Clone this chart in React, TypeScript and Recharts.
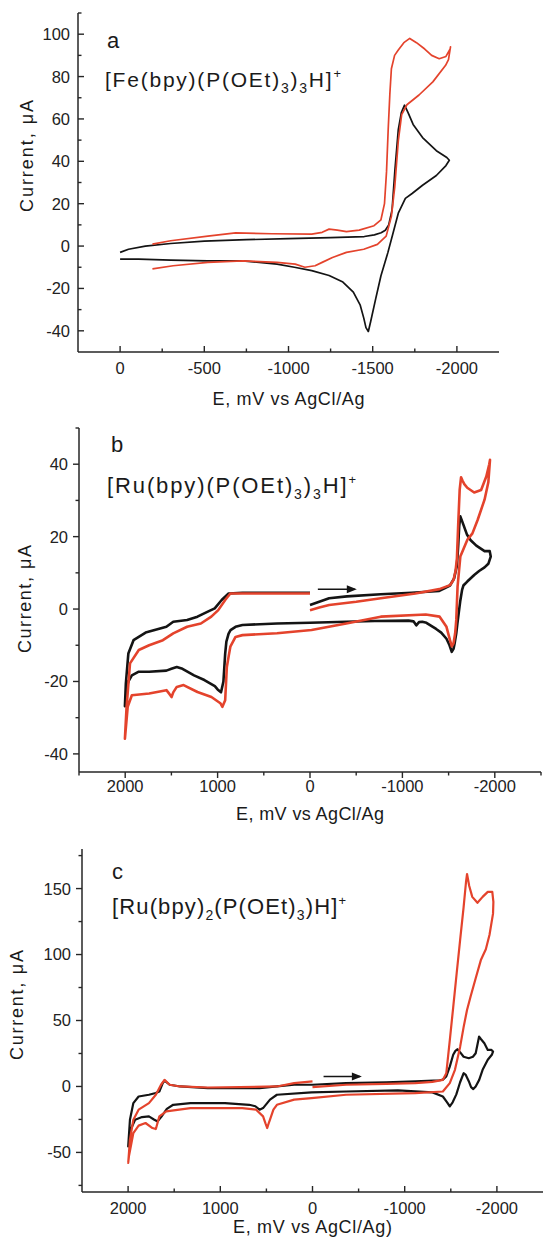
import React from 'react';
import { LineChart, Line, XAxis, YAxis } from 'recharts';

const FONT = '"Liberation Sans", Arial, Helvetica, sans-serif';
const RED = '#e4432c';
const BLACK = '#141414';
const AXIS = '#262626';

type P = [number, number];

// ---------- Panel a : [Fe(bpy)(P(OEt)3)3H]+ ----------
const aBlack: P[] = [[0,-3],[-50,-1.5],[-150,0],[-300,1.2],[-500,2.3],[-750,3],[-1000,3.5],[-1250,4],[-1450,4.5],[-1510,5.3],[-1550,6.3],[-1575,7.5],[-1595,10],[-1615,17],[-1632,36],[-1652,55],[-1670,63],[-1689,66.5],[-1710,63],[-1740,57.4],[-1796,51.2],[-1878,45],[-1940,41.8],[-1955,40.5],[-1935,38],[-1878,33.3],[-1796,28.7],[-1734,24.8],[-1694,22.5],[-1652,15.5],[-1621,6.2],[-1590,-3.1],[-1549,-14],[-1518,-24.8],[-1488,-35.6],[-1474,-40.3],[-1460,-38.5],[-1447,-34],[-1426,-27.9],[-1385,-21.7],[-1323,-17],[-1241,-13.9],[-1138,-11.6],[-1035,-10],[-932,-8.5],[-727,-7],[-521,-7],[-300,-6.6],[-110,-6.2],[0,-6.2]];
const aRed: P[] = [[-192,0.9],[-300,2.5],[-521,4.7],[-686,6.2],[-900,5.8],[-1138,5.6],[-1200,6.5],[-1241,8],[-1290,7.5],[-1344,6.8],[-1420,7.5],[-1508,9.6],[-1549,12.4],[-1570,20],[-1582,35],[-1592,55],[-1602,72],[-1611,83.7],[-1630,90],[-1652,92.5],[-1685,96],[-1720,98],[-1760,96],[-1809,93],[-1850,90],[-1895,88.4],[-1935,89.5],[-1960,93],[-1962,94],[-1950,88],[-1933,85.3],[-1857,77.5],[-1775,71.3],[-1703,66.7],[-1672,62],[-1652,49.6],[-1631,27.9],[-1611,14],[-1580,4.7],[-1528,0.8],[-1447,-1.5],[-1344,-3],[-1261,-5.4],[-1200,-7.7],[-1158,-9.3],[-1097,-10],[-1040,-8.5],[-932,-7.7],[-727,-7],[-521,-7.7],[-315,-9.3],[-192,-10.8]];
const aXMajor = [0, -500, -1000, -1500, -2000];
const aXMinor = [-250, -750, -1250, -1750];
const aYMajor = [-40, -20, 0, 20, 40, 60, 80, 100];
const aYMinor = [-30, -10, 10, 30, 50, 70, 90, 110];

// ---------- Panel b : [Ru(bpy)(P(OEt)3)3H]+ ----------
const bBlack: P[] = [[0,1.1],[-100,2],[-207,3],[-400,3.5],[-766,4.1],[-1100,4.5],[-1400,5],[-1515,6.5],[-1560,8.5],[-1590,12],[-1605,18],[-1615,23],[-1627,25.6],[-1650,24],[-1700,20.5],[-1739,19],[-1800,17.5],[-1889,16],[-1945,16],[-1956,14.5],[-1930,12.5],[-1889,11.5],[-1830,10.5],[-1777,9.4],[-1702,7.6],[-1660,6.5],[-1646,5.3],[-1625,2],[-1609,-1.2],[-1595,-4],[-1583,-6.7],[-1565,-9.5],[-1553,-11],[-1534,-11.8],[-1510,-10],[-1477,-8.2],[-1420,-6.5],[-1365,-5.5],[-1260,-3.8],[-1215,-3.5],[-1180,-3.6],[-1150,-4.5],[-1120,-3.4],[-1066,-3.2],[-700,-3.3],[-392,-3.5],[0,-3.8],[357,-4],[731,-4.4],[806,-4.9],[860,-5.8],[881,-6.8],[905,-9],[918,-12.3],[937,-20],[963,-23],[1000,-22.2],[1030,-21.3],[1143,-19.6],[1255,-18.3],[1380,-16.5],[1442,-16],[1500,-16.5],[1554,-17],[1741,-17.3],[1853,-17.3],[1928,-18.3],[1965,-20],[1985,-21.5],[2003,-26.8],[1993,-20.6],[1966,-12.3],[1910,-8.6],[1779,-6.5],[1554,-4.9],[1480,-3.5],[1330,-3],[1218,-2.1],[1106,-0.7],[1031,0.2],[956,2.5],[881,4.3],[731,4.5],[0,4.5]];
const bRed: P[] = [[0,-0.3],[-100,0.4],[-207,1.1],[-500,2],[-766,3],[-1140,4.3],[-1400,5.5],[-1515,6.6],[-1553,8],[-1575,10.5],[-1590,14],[-1605,24],[-1620,33],[-1635,36.4],[-1650,35.5],[-1670,34.5],[-1702,33.5],[-1777,32.2],[-1852,32.9],[-1908,36.6],[-1940,40],[-1948,41.2],[-1930,35],[-1889,30.2],[-1814,24.6],[-1758,20.9],[-1702,19.1],[-1627,14.5],[-1597,6.2],[-1583,-3],[-1571,-6.7],[-1553,-9.5],[-1535,-10.3],[-1515,-8.6],[-1477,-4.9],[-1403,-2.1],[-1253,-1.5],[-766,-2.1],[-392,-4],[-17,-5.8],[357,-6.7],[731,-7.2],[806,-7.7],[862,-10.4],[880,-13],[900,-16],[918,-25.2],[948,-27],[970,-26],[1067,-24.3],[1218,-22.9],[1368,-21],[1442,-21.5],[1480,-23],[1498,-24.3],[1520,-23.5],[1554,-22.4],[1741,-23.3],[1928,-23.8],[1973,-27],[2003,-35.8],[1985,-27],[1948,-15],[1853,-11.3],[1741,-10],[1592,-8.6],[1480,-6.7],[1330,-4.9],[1181,-4],[1068,-2.1],[993,-0.3],[918,2.5],[862,4.3],[0,4.3]];
const bArrow: P[] = [[-85,5.5],[-485,5.5]];
const bXMajor = [2000, 1000, 0, -1000, -2000];
const bXMinor = [2500, 1500, 500, -500, -1500, -2500];
const bYMajor = [-40, -20, 0, 20, 40];
const bYMinor = [-30, -10, 10, 30, 50];

// ---------- Panel c : [Ru(bpy)2(P(OEt)3)H]+ ----------
const cBlack: P[] = [[0,1.3],[-364,2.5],[-800,3.2],[-1114,3.8],[-1380,4.7],[-1414,5.2],[-1451,7.6],[-1489,15],[-1526,24],[-1550,27],[-1571,28.2],[-1600,26],[-1639,22.5],[-1695,21.4],[-1740,22.5],[-1770,25.2],[-1807,37.8],[-1826,36],[-1864,32.8],[-1901,27.7],[-1939,27.7],[-1958,26.5],[-1945,24],[-1901,20.2],[-1845,12.6],[-1808,5],[-1770,0],[-1744,-2],[-1720,-0.5],[-1695,4],[-1660,9],[-1639,10],[-1600,3],[-1560,-6],[-1520,-12],[-1489,-15.1],[-1460,-12],[-1414,-7.6],[-1301,-4.5],[-926,-3],[-364,-3.8],[11,-4.5],[386,-6.3],[461,-10],[536,-16.4],[574,-17.6],[620,-15],[686,-13.9],[949,-12.6],[1324,-12.6],[1511,-13.9],[1580,-17],[1640,-23],[1680,-26.5],[1720,-25],[1774,-22.7],[1849,-23.2],[1924,-25.2],[1980,-34],[1999,-45.4],[1980,-25.2],[1943,-12.6],[1886,-7.6],[1774,-6.3],[1700,-5],[1661,-3.8],[1624,2.5],[1605,4.5],[1549,1.3],[1436,0],[1136,-1.3],[574,-1.3],[386,0],[199,1.3],[0,1.3]];
const cRed: P[] = [[0,-0.5],[-364,1.3],[-800,2],[-1114,2.5],[-1300,3.5],[-1414,5],[-1451,10],[-1489,35],[-1526,60],[-1564,86],[-1601,111],[-1639,136],[-1665,155],[-1676,161],[-1700,152],[-1733,143.7],[-1789,139.2],[-1845,143.7],[-1901,147.5],[-1950,147.5],[-1962,140],[-1958,131],[-1920,115],[-1880,104],[-1826,95.8],[-1770,82],[-1714,68],[-1676,58],[-1639,45],[-1601,30],[-1545,12.6],[-1489,2.5],[-1414,-3.8],[-1114,-5],[-364,-6.3],[11,-8.8],[199,-10],[386,-13.9],[424,-17.6],[460,-25],[480,-29],[491,-31.5],[510,-28],[536,-22.7],[611,-17.6],[761,-16.4],[1324,-16.4],[1586,-18.9],[1661,-22.7],[1699,-32.3],[1736,-31.5],[1811,-27.7],[1886,-29.7],[1943,-35.3],[1991,-53],[1999,-58],[1980,-40.3],[1943,-25.2],[1886,-17.6],[1774,-12.6],[1699,-6.3],[1643,1.3],[1605,5],[1549,1.3],[1436,0],[1136,-0.8],[386,0],[199,2.5],[0,3.8]];
const cArrow: P[] = [[-120,7.6],[-514,7.6]];
const cXMajor = [2000, 1000, 0, -1000, -2000];
const cXMinor = [1500, 500, -500, -1500];
const cYMajor = [-50, 0, 50, 100, 150];
const cYMinor = [-75, -25, 25, 75, 125, 175];

const toRows = (pts: P[]) => pts.map(([x, y]) => ({ x, y }));

const TICK_FS = 16.5;

const yTick = (majors: number[], inward: boolean, gap: number) => (p: any) => {
  const v = p.payload.value;
  const major = majors.includes(v);
  const len = major ? 6 : 3.5;
  const dx = inward ? len : -len;
  return (
    <g>
      <line x1={p.x} y1={p.y} x2={p.x + dx} y2={p.y} stroke={AXIS} strokeWidth={1.4} />
      {major ? (
        <text x={p.x - gap} y={p.y} dy="0.36em" textAnchor="end" fontSize={TICK_FS} fontFamily={FONT} fill="#222">
          {v}
        </text>
      ) : null}
    </g>
  );
};

const xTick = (majors: number[], inward: boolean, off: number) => (p: any) => {
  const v = p.payload.value;
  const major = majors.includes(v);
  const len = major ? 6 : 3.5;
  const dy = inward ? -len : len;
  return (
    <g>
      <line x1={p.x} y1={p.y} x2={p.x} y2={p.y + dy} stroke={AXIS} strokeWidth={1.4} />
      {major ? (
        <text x={p.x} y={p.y + off} textAnchor="middle" fontSize={TICK_FS} fontFamily={FONT} fill="#222">
          {v}
        </text>
      ) : null}
    </g>
  );
};

const arrowDot = (p: any) => {
  if (p.index !== 1) return <g key={`ad-${p.index}`} />;
  return <path key={`ad-${p.index}`} d={`M${p.cx + 2},${p.cy} l-10,-4 l0,8 z`} fill={BLACK} />;
};

type PanelProps = {
  top: number;
  height: number;
  marginTop: number;
  marginRight: number;
  yWidth: number;
  xHeight: number;
  xDomain: [number, number];
  yDomain: [number, number];
  xTicks: number[];
  yTicks: number[];
  xMajor: number[];
  yMajor: number[];
  xInward: boolean;
  yInward: boolean;
  yGap: number;
  xOff: number;
  black: P[];
  red: P[];
  arrow?: P[];
  lw: number;
};

function Panel(props: PanelProps) {
  const {
    top, height, marginTop, marginRight, yWidth, xHeight, xDomain, yDomain, xTicks, yTicks,
    xMajor, yMajor, xInward, yInward, yGap, xOff, black, red, arrow, lw,
  } = props;
  return (
    <div style={{ position: 'absolute', left: 0, top, width: 543, height }}>
      <LineChart width={543} height={height} margin={{ top: marginTop, right: marginRight, left: 0, bottom: 0 }}>
        <XAxis
          type="number"
          dataKey="x"
          domain={xDomain}
          reversed
          allowDataOverflow
          ticks={xTicks}
          interval={0}
          height={xHeight}
          tickSize={0}
          tickMargin={0}
          tickLine={false}
          axisLine={{ stroke: AXIS, strokeWidth: 1.5 }}
          tick={xTick(xMajor, xInward, xOff)}
        />
        <YAxis
          type="number"
          dataKey="y"
          domain={yDomain}
          allowDataOverflow
          ticks={yTicks}
          interval={0}
          width={yWidth}
          tickSize={0}
          tickMargin={0}
          tickLine={false}
          axisLine={{ stroke: AXIS, strokeWidth: 1.5 }}
          tick={yTick(yMajor, yInward, yGap)}
        />
        <Line data={toRows(black)} dataKey="y" type="linear" stroke={BLACK} strokeWidth={lw} dot={false} activeDot={false} isAnimationActive={false} strokeLinejoin="round" />
        <Line data={toRows(red)} dataKey="y" type="linear" stroke={RED} strokeWidth={lw} dot={false} activeDot={false} isAnimationActive={false} strokeLinejoin="round" />
        {arrow ? (
          <Line data={toRows(arrow)} dataKey="y" type="linear" stroke={BLACK} strokeWidth={1.5} dot={arrowDot} activeDot={false} isAnimationActive={false} />
        ) : null}
      </LineChart>
    </div>
  );
}

const txt = { fontFamily: FONT, fill: '#1a1a1a' } as const;

export default function App() {
  return (
    <div style={{ position: 'absolute', left: 0, top: 0, width: 543, height: 1249, background: '#fff', overflow: 'hidden' }}>
      <Panel
        top={0} height={412} marginTop={13} marginRight={44} yWidth={78} xHeight={60}
        xDomain={[-2250, 250]} yDomain={[-50, 110]}
        xTicks={[...aXMajor, ...aXMinor]} yTicks={[...aYMajor, ...aYMinor]}
        xMajor={aXMajor} yMajor={aYMajor} xInward yInward yGap={8} xOff={21.5}
        black={aBlack} red={aRed} lw={1.7}
      />
      <Panel
        top={400} height={412} marginTop={28} marginRight={2} yWidth={79} xHeight={40}
        xDomain={[-2500, 2500]} yDomain={[-45, 50]}
        xTicks={[...bXMajor, ...bXMinor]} yTicks={[...bYMajor, ...bYMinor]}
        xMajor={bXMajor} yMajor={bYMajor} xInward={false} yInward={false} yGap={11} xOff={20}
        black={bBlack} red={bRed} arrow={bArrow} lw={2.6}
      />
      <Panel
        top={820} height={429} marginTop={29} marginRight={0} yWidth={82} xHeight={57}
        xDomain={[-2500, 2500]} yDomain={[-80, 180]}
        xTicks={[...cXMajor, ...cXMinor]} yTicks={[...cYMajor, ...cYMinor]}
        xMajor={cXMajor} yMajor={cYMajor} xInward yInward={false} yGap={11} xOff={22}
        black={cBlack} red={cRed} arrow={cArrow} lw={2.2}
      />
      <svg width={543} height={1249} style={{ position: 'absolute', left: 0, top: 0, pointerEvents: 'none' }}>
        {/* panel a */}
        <text x={107} y={48} fontSize={22} {...txt}>a</text>
        <text x={105} y={87} fontSize={21} textLength={236} lengthAdjust="spacing" {...txt}>
          [Fe(bpy)(P(OEt)<tspan fontSize={14} dy={6}>3</tspan><tspan dy={-6}>)</tspan><tspan fontSize={14} dy={6}>3</tspan><tspan dy={-6}>H]</tspan><tspan fontSize={13} dy={-9}>+</tspan>
        </text>
        <text x={288.5} y={405} fontSize={18} textAnchor="middle" textLength={152} lengthAdjust="spacing" {...txt}>E, mV vs AgCl/Ag</text>
        <text transform="translate(27,156) rotate(-90)" fontSize={18} textAnchor="middle" dy="0.35em" textLength={112} lengthAdjust="spacing" {...txt}>Current, μA</text>

        {/* panel b */}
        <text x={111} y={452} fontSize={22} {...txt}>b</text>
        <text x={107} y={493} fontSize={22} textLength={249} lengthAdjust="spacing" {...txt}>
          [Ru(bpy)(P(OEt)<tspan fontSize={14} dy={6}>3</tspan><tspan dy={-6}>)</tspan><tspan fontSize={14} dy={6}>3</tspan><tspan dy={-6}>H]</tspan><tspan fontSize={13} dy={-9}>+</tspan>
        </text>
        <text x={310} y={820} fontSize={18} textAnchor="middle" textLength={148} lengthAdjust="spacing" {...txt}>E, mV vs AgCl/Ag</text>
        <text transform="translate(25,599) rotate(-90)" fontSize={18} textAnchor="middle" dy="0.35em" textLength={108} lengthAdjust="spacing" {...txt}>Current, μA</text>

        {/* panel c */}
        <text x={112} y={879} fontSize={22} {...txt}>c</text>
        <text x={112} y={914} fontSize={22} textLength={234} lengthAdjust="spacing" {...txt}>
          [Ru(bpy)<tspan fontSize={14} dy={6}>2</tspan><tspan dy={-6}>(P(OEt)</tspan><tspan fontSize={14} dy={6}>3</tspan><tspan dy={-6}>)H]</tspan><tspan fontSize={13} dy={-9}>+</tspan>
        </text>
        <text x={312.5} y={1233} fontSize={18} textAnchor="middle" textLength={159} lengthAdjust="spacing" {...txt}>E, mV vs AgCl/Ag)</text>
        <text transform="translate(17,1005) rotate(-90)" fontSize={18} textAnchor="middle" dy="0.35em" textLength={110} lengthAdjust="spacing" {...txt}>Current, μA</text>
      </svg>
    </div>
  );
}
